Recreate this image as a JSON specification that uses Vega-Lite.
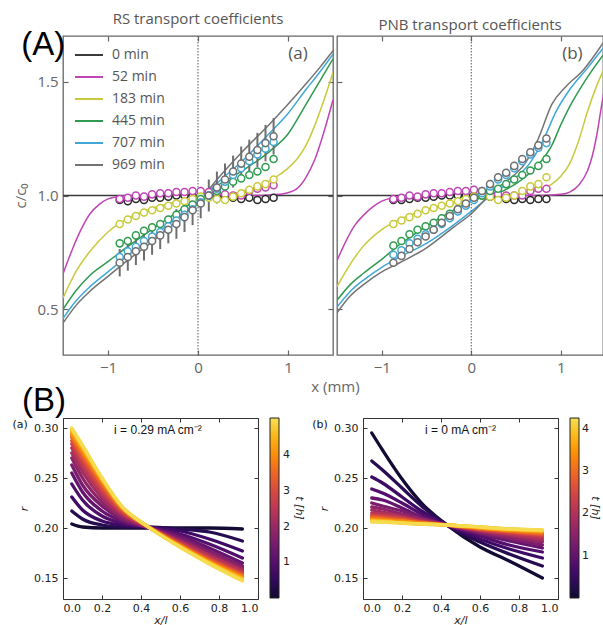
{
"$schema": "https://vega.github.io/schema/vega-lite/v6.json",
"padding": {"left": 11, "top": 11, "right": 0, "bottom": 0},
"background": "white",
"bounds": "full",
"spacing": -11,
"config": {"view": {"stroke": null}, "axis": {"grid": false, "domain": false}},
"resolve": {"scale": {"color": "independent", "stroke": "independent"}, "legend": {"color": "independent", "stroke": "independent"}},
"datasets": {
"la": [
{"s":"0 min","x":-1.5,"c":1.0},{"s":"0 min","x":1.5,"c":1.0},
{"s":"52 min","x":-1.5,"c":0.656},{"s":"52 min","x":-1.4,"c":0.76},{"s":"52 min","x":-1.3,"c":0.85},{"s":"52 min","x":-1.2,"c":0.92},{"s":"52 min","x":-1.1,"c":0.96},{"s":"52 min","x":-1.0,"c":0.985},{"s":"52 min","x":-0.9,"c":0.995},{"s":"52 min","x":-0.7,"c":1.0},{"s":"52 min","x":0,"c":1.0},{"s":"52 min","x":0.7,"c":1.0},{"s":"52 min","x":0.9,"c":1.005},{"s":"52 min","x":1.0,"c":1.012},{"s":"52 min","x":1.1,"c":1.03},{"s":"52 min","x":1.2,"c":1.08},{"s":"52 min","x":1.3,"c":1.16},{"s":"52 min","x":1.4,"c":1.28},{"s":"52 min","x":1.5,"c":1.42},
{"s":"183 min","x":-1.5,"c":0.55},{"s":"183 min","x":-1.35,"c":0.67},{"s":"183 min","x":-1.2,"c":0.755},{"s":"183 min","x":-1.0,"c":0.84},{"s":"183 min","x":-0.8,"c":0.895},{"s":"183 min","x":-0.5,"c":0.945},{"s":"183 min","x":-0.2,"c":0.975},{"s":"183 min","x":0,"c":0.99},{"s":"183 min","x":0.3,"c":1.0},{"s":"183 min","x":0.5,"c":1.02},{"s":"183 min","x":0.7,"c":1.045},{"s":"183 min","x":0.8,"c":1.065},{"s":"183 min","x":0.9,"c":1.09},{"s":"183 min","x":1.0,"c":1.12},{"s":"183 min","x":1.1,"c":1.16},{"s":"183 min","x":1.2,"c":1.22},{"s":"183 min","x":1.3,"c":1.31},{"s":"183 min","x":1.4,"c":1.42},{"s":"183 min","x":1.5,"c":1.54},
{"s":"445 min","x":-1.5,"c":0.5},{"s":"445 min","x":-1.35,"c":0.585},{"s":"445 min","x":-1.2,"c":0.65},{"s":"445 min","x":-1.0,"c":0.71},{"s":"445 min","x":-0.8,"c":0.77},{"s":"445 min","x":-0.5,"c":0.855},{"s":"445 min","x":-0.2,"c":0.935},{"s":"445 min","x":0,"c":0.985},{"s":"445 min","x":0.2,"c":1.04},{"s":"445 min","x":0.5,"c":1.11},{"s":"445 min","x":0.8,"c":1.195},{"s":"445 min","x":1.0,"c":1.27},{"s":"445 min","x":1.2,"c":1.4},{"s":"445 min","x":1.35,"c":1.5},{"s":"445 min","x":1.5,"c":1.6},
{"s":"707 min","x":-1.5,"c":0.46},{"s":"707 min","x":-1.35,"c":0.54},{"s":"707 min","x":-1.2,"c":0.6},{"s":"707 min","x":-1.0,"c":0.665},{"s":"707 min","x":-0.8,"c":0.73},{"s":"707 min","x":-0.5,"c":0.82},{"s":"707 min","x":-0.2,"c":0.915},{"s":"707 min","x":0,"c":0.975},{"s":"707 min","x":0.2,"c":1.05},{"s":"707 min","x":0.5,"c":1.155},{"s":"707 min","x":0.8,"c":1.275},{"s":"707 min","x":1.0,"c":1.36},{"s":"707 min","x":1.2,"c":1.465},{"s":"707 min","x":1.35,"c":1.54},{"s":"707 min","x":1.5,"c":1.62},
{"s":"969 min","x":-1.5,"c":0.44},{"s":"969 min","x":-1.35,"c":0.52},{"s":"969 min","x":-1.2,"c":0.58},{"s":"969 min","x":-1.0,"c":0.645},{"s":"969 min","x":-0.8,"c":0.71},{"s":"969 min","x":-0.5,"c":0.8},{"s":"969 min","x":-0.2,"c":0.9},{"s":"969 min","x":0,"c":0.97},{"s":"969 min","x":0.2,"c":1.065},{"s":"969 min","x":0.5,"c":1.195},{"s":"969 min","x":0.8,"c":1.315},{"s":"969 min","x":1.0,"c":1.4},{"s":"969 min","x":1.2,"c":1.49},{"s":"969 min","x":1.35,"c":1.56},{"s":"969 min","x":1.5,"c":1.635}
],
"lb": [
{"s":"0 min","x":-1.5,"c":1.0},{"s":"0 min","x":1.5,"c":1.0},
{"s":"52 min","x":-1.5,"c":0.714},{"s":"52 min","x":-1.4,"c":0.8},{"s":"52 min","x":-1.3,"c":0.87},{"s":"52 min","x":-1.2,"c":0.915},{"s":"52 min","x":-1.1,"c":0.95},{"s":"52 min","x":-1.0,"c":0.975},{"s":"52 min","x":-0.8,"c":0.995},{"s":"52 min","x":-0.6,"c":1.0},{"s":"52 min","x":0,"c":1.0},{"s":"52 min","x":0.8,"c":1.0},{"s":"52 min","x":1.0,"c":1.005},{"s":"52 min","x":1.1,"c":1.015},{"s":"52 min","x":1.2,"c":1.045},{"s":"52 min","x":1.3,"c":1.11},{"s":"52 min","x":1.35,"c":1.17},{"s":"52 min","x":1.4,"c":1.26},{"s":"52 min","x":1.45,"c":1.38},{"s":"52 min","x":1.5,"c":1.5},
{"s":"183 min","x":-1.5,"c":0.6},{"s":"183 min","x":-1.35,"c":0.7},{"s":"183 min","x":-1.2,"c":0.78},{"s":"183 min","x":-1.0,"c":0.85},{"s":"183 min","x":-0.8,"c":0.895},{"s":"183 min","x":-0.6,"c":0.925},{"s":"183 min","x":-0.3,"c":0.96},{"s":"183 min","x":0,"c":0.985},{"s":"183 min","x":0.3,"c":1.0},{"s":"183 min","x":0.6,"c":1.01},{"s":"183 min","x":0.8,"c":1.03},{"s":"183 min","x":0.9,"c":1.05},{"s":"183 min","x":1.0,"c":1.085},{"s":"183 min","x":1.1,"c":1.14},{"s":"183 min","x":1.2,"c":1.24},{"s":"183 min","x":1.3,"c":1.37},{"s":"183 min","x":1.4,"c":1.48},{"s":"183 min","x":1.5,"c":1.57},
{"s":"445 min","x":-1.5,"c":0.54},{"s":"445 min","x":-1.35,"c":0.61},{"s":"445 min","x":-1.2,"c":0.66},{"s":"445 min","x":-1.0,"c":0.72},{"s":"445 min","x":-0.8,"c":0.785},{"s":"445 min","x":-0.5,"c":0.865},{"s":"445 min","x":-0.2,"c":0.935},{"s":"445 min","x":0,"c":0.975},{"s":"445 min","x":0.3,"c":1.01},{"s":"445 min","x":0.6,"c":1.08},{"s":"445 min","x":0.8,"c":1.16},{"s":"445 min","x":0.9,"c":1.22},{"s":"445 min","x":1.0,"c":1.31},{"s":"445 min","x":1.1,"c":1.39},{"s":"445 min","x":1.25,"c":1.49},{"s":"445 min","x":1.5,"c":1.63},
{"s":"707 min","x":-1.5,"c":0.51},{"s":"707 min","x":-1.35,"c":0.58},{"s":"707 min","x":-1.2,"c":0.63},{"s":"707 min","x":-1.0,"c":0.685},{"s":"707 min","x":-0.8,"c":0.73},{"s":"707 min","x":-0.5,"c":0.79},{"s":"707 min","x":-0.2,"c":0.87},{"s":"707 min","x":0,"c":0.93},{"s":"707 min","x":0.25,"c":1.01},{"s":"707 min","x":0.5,"c":1.08},{"s":"707 min","x":0.65,"c":1.14},{"s":"707 min","x":0.8,"c":1.24},{"s":"707 min","x":0.95,"c":1.37},{"s":"707 min","x":1.1,"c":1.465},{"s":"707 min","x":1.3,"c":1.56},{"s":"707 min","x":1.5,"c":1.66},
{"s":"969 min","x":-1.5,"c":0.485},{"s":"969 min","x":-1.35,"c":0.56},{"s":"969 min","x":-1.2,"c":0.61},{"s":"969 min","x":-1.0,"c":0.665},{"s":"969 min","x":-0.8,"c":0.705},{"s":"969 min","x":-0.5,"c":0.77},{"s":"969 min","x":-0.2,"c":0.86},{"s":"969 min","x":0,"c":0.92},{"s":"969 min","x":0.25,"c":1.02},{"s":"969 min","x":0.45,"c":1.08},{"s":"969 min","x":0.6,"c":1.14},{"s":"969 min","x":0.75,"c":1.25},{"s":"969 min","x":0.9,"c":1.4},{"s":"969 min","x":1.05,"c":1.475},{"s":"969 min","x":1.25,"c":1.55},{"s":"969 min","x":1.5,"c":1.685}
],
"pa": [
{"s":"0 min","x":-0.87,"c":0.98},{"s":"0 min","x":-0.78,"c":0.975},{"s":"0 min","x":-0.69,"c":0.985},{"s":"0 min","x":-0.6,"c":0.98},{"s":"0 min","x":-0.51,"c":0.99},{"s":"0 min","x":-0.42,"c":0.99},{"s":"0 min","x":-0.33,"c":0.995},{"s":"0 min","x":-0.24,"c":1.0},{"s":"0 min","x":-0.15,"c":1.0},{"s":"0 min","x":-0.06,"c":1.0},{"s":"0 min","x":0.03,"c":1.0},{"s":"0 min","x":0.12,"c":1.0},{"s":"0 min","x":0.21,"c":0.995},{"s":"0 min","x":0.3,"c":0.99},{"s":"0 min","x":0.39,"c":0.99},{"s":"0 min","x":0.48,"c":0.985},{"s":"0 min","x":0.57,"c":0.99},{"s":"0 min","x":0.66,"c":0.98},{"s":"0 min","x":0.75,"c":0.985},{"s":"0 min","x":0.84,"c":0.99},
{"s":"52 min","x":-0.87,"c":0.985},{"s":"52 min","x":-0.78,"c":0.99},{"s":"52 min","x":-0.69,"c":1.0},{"s":"52 min","x":-0.6,"c":0.995},{"s":"52 min","x":-0.51,"c":1.005},{"s":"52 min","x":-0.42,"c":1.01},{"s":"52 min","x":-0.33,"c":1.01},{"s":"52 min","x":-0.24,"c":1.015},{"s":"52 min","x":-0.15,"c":1.015},{"s":"52 min","x":-0.06,"c":1.02},{"s":"52 min","x":0.03,"c":1.02},{"s":"52 min","x":0.12,"c":1.015},{"s":"52 min","x":0.21,"c":1.01},{"s":"52 min","x":0.3,"c":1.005},{"s":"52 min","x":0.39,"c":1.0},{"s":"52 min","x":0.48,"c":1.0},{"s":"52 min","x":0.57,"c":1.02},{"s":"52 min","x":0.66,"c":1.03},{"s":"52 min","x":0.75,"c":1.035},{"s":"52 min","x":0.84,"c":1.045},
{"s":"183 min","x":-0.87,"c":0.875},{"s":"183 min","x":-0.78,"c":0.895},{"s":"183 min","x":-0.69,"c":0.91},{"s":"183 min","x":-0.6,"c":0.925},{"s":"183 min","x":-0.51,"c":0.935},{"s":"183 min","x":-0.42,"c":0.945},{"s":"183 min","x":-0.33,"c":0.955},{"s":"183 min","x":-0.24,"c":0.965},{"s":"183 min","x":-0.15,"c":0.975},{"s":"183 min","x":-0.06,"c":0.985},{"s":"183 min","x":0.03,"c":0.995},{"s":"183 min","x":0.12,"c":0.99},{"s":"183 min","x":0.21,"c":0.985},{"s":"183 min","x":0.3,"c":0.98},{"s":"183 min","x":0.39,"c":0.995},{"s":"183 min","x":0.48,"c":1.01},{"s":"183 min","x":0.57,"c":1.025},{"s":"183 min","x":0.66,"c":1.04},{"s":"183 min","x":0.75,"c":1.05},{"s":"183 min","x":0.84,"c":1.07},
{"s":"445 min","x":-0.87,"c":0.79},{"s":"445 min","x":-0.78,"c":0.8},{"s":"445 min","x":-0.69,"c":0.825},{"s":"445 min","x":-0.6,"c":0.845},{"s":"445 min","x":-0.51,"c":0.86},{"s":"445 min","x":-0.42,"c":0.875},{"s":"445 min","x":-0.33,"c":0.895},{"s":"445 min","x":-0.24,"c":0.915},{"s":"445 min","x":-0.15,"c":0.94},{"s":"445 min","x":-0.06,"c":0.96},{"s":"445 min","x":0.03,"c":0.985},{"s":"445 min","x":0.12,"c":1.0},{"s":"445 min","x":0.21,"c":1.02},{"s":"445 min","x":0.3,"c":1.04},{"s":"445 min","x":0.39,"c":1.06},{"s":"445 min","x":0.48,"c":1.075},{"s":"445 min","x":0.57,"c":1.09},{"s":"445 min","x":0.66,"c":1.105},{"s":"445 min","x":0.75,"c":1.125},{"s":"445 min","x":0.84,"c":1.16},
{"s":"707 min","x":-0.87,"c":0.73},{"s":"707 min","x":-0.78,"c":0.755},{"s":"707 min","x":-0.69,"c":0.775},{"s":"707 min","x":-0.6,"c":0.8},{"s":"707 min","x":-0.51,"c":0.82},{"s":"707 min","x":-0.42,"c":0.84},{"s":"707 min","x":-0.33,"c":0.865},{"s":"707 min","x":-0.24,"c":0.89},{"s":"707 min","x":-0.15,"c":0.915},{"s":"707 min","x":-0.06,"c":0.94},{"s":"707 min","x":0.03,"c":0.97},{"s":"707 min","x":0.12,"c":1.0},{"s":"707 min","x":0.21,"c":1.03},{"s":"707 min","x":0.3,"c":1.06},{"s":"707 min","x":0.39,"c":1.09},{"s":"707 min","x":0.48,"c":1.12},{"s":"707 min","x":0.57,"c":1.15},{"s":"707 min","x":0.66,"c":1.18},{"s":"707 min","x":0.75,"c":1.205},{"s":"707 min","x":0.84,"c":1.235},
{"s":"969 min","x":-0.87,"c":0.705},{"s":"969 min","x":-0.78,"c":0.73},{"s":"969 min","x":-0.69,"c":0.755},{"s":"969 min","x":-0.6,"c":0.775},{"s":"969 min","x":-0.51,"c":0.8},{"s":"969 min","x":-0.42,"c":0.825},{"s":"969 min","x":-0.33,"c":0.85},{"s":"969 min","x":-0.24,"c":0.875},{"s":"969 min","x":-0.15,"c":0.905},{"s":"969 min","x":-0.06,"c":0.935},{"s":"969 min","x":0.03,"c":0.965},{"s":"969 min","x":0.12,"c":1.0},{"s":"969 min","x":0.21,"c":1.035},{"s":"969 min","x":0.3,"c":1.07},{"s":"969 min","x":0.39,"c":1.105},{"s":"969 min","x":0.48,"c":1.14},{"s":"969 min","x":0.57,"c":1.17},{"s":"969 min","x":0.66,"c":1.2},{"s":"969 min","x":0.75,"c":1.23},{"s":"969 min","x":0.84,"c":1.26}
],
"ea": [
{"x":-0.87,"lo":0.645,"hi":0.765},{"x":-0.78,"lo":0.67,"hi":0.79},{"x":-0.69,"lo":0.695,"hi":0.815},{"x":-0.6,"lo":0.715,"hi":0.835},{"x":-0.51,"lo":0.74,"hi":0.86},{"x":-0.42,"lo":0.765,"hi":0.885},{"x":-0.33,"lo":0.79,"hi":0.91},{"x":-0.24,"lo":0.81,"hi":0.94},{"x":-0.15,"lo":0.84,"hi":0.97},{"x":-0.06,"lo":0.87,"hi":1.0},{"x":0.03,"lo":0.9,"hi":1.03},{"x":0.12,"lo":0.93,"hi":1.07},{"x":0.21,"lo":0.965,"hi":1.105},{"x":0.3,"lo":1.0,"hi":1.14},{"x":0.39,"lo":1.035,"hi":1.175},{"x":0.48,"lo":1.065,"hi":1.215},{"x":0.57,"lo":1.095,"hi":1.245},{"x":0.66,"lo":1.125,"hi":1.275},{"x":0.75,"lo":1.15,"hi":1.31},{"x":0.84,"lo":1.18,"hi":1.34}
],
"pb": [
{"s":"0 min","x":-0.87,"c":0.98},{"s":"0 min","x":-0.78,"c":0.98},{"s":"0 min","x":-0.69,"c":0.985},{"s":"0 min","x":-0.6,"c":0.99},{"s":"0 min","x":-0.51,"c":0.99},{"s":"0 min","x":-0.42,"c":0.995},{"s":"0 min","x":-0.33,"c":1.0},{"s":"0 min","x":-0.24,"c":1.0},{"s":"0 min","x":-0.15,"c":1.0},{"s":"0 min","x":-0.06,"c":1.0},{"s":"0 min","x":0.03,"c":1.0},{"s":"0 min","x":0.12,"c":1.0},{"s":"0 min","x":0.21,"c":0.995},{"s":"0 min","x":0.3,"c":0.99},{"s":"0 min","x":0.39,"c":0.985},{"s":"0 min","x":0.48,"c":0.98},{"s":"0 min","x":0.57,"c":0.985},{"s":"0 min","x":0.66,"c":0.98},{"s":"0 min","x":0.75,"c":0.985},{"s":"0 min","x":0.84,"c":0.985},
{"s":"52 min","x":-0.87,"c":0.985},{"s":"52 min","x":-0.78,"c":0.99},{"s":"52 min","x":-0.69,"c":1.0},{"s":"52 min","x":-0.6,"c":0.995},{"s":"52 min","x":-0.51,"c":1.005},{"s":"52 min","x":-0.42,"c":1.01},{"s":"52 min","x":-0.33,"c":1.01},{"s":"52 min","x":-0.24,"c":1.015},{"s":"52 min","x":-0.15,"c":1.02},{"s":"52 min","x":-0.06,"c":1.02},{"s":"52 min","x":0.03,"c":1.025},{"s":"52 min","x":0.12,"c":1.02},{"s":"52 min","x":0.21,"c":1.01},{"s":"52 min","x":0.3,"c":1.005},{"s":"52 min","x":0.39,"c":1.0},{"s":"52 min","x":0.48,"c":1.0},{"s":"52 min","x":0.57,"c":1.0},{"s":"52 min","x":0.66,"c":1.02},{"s":"52 min","x":0.75,"c":1.03},{"s":"52 min","x":0.84,"c":1.03},
{"s":"183 min","x":-0.87,"c":0.875},{"s":"183 min","x":-0.78,"c":0.89},{"s":"183 min","x":-0.69,"c":0.905},{"s":"183 min","x":-0.6,"c":0.92},{"s":"183 min","x":-0.51,"c":0.935},{"s":"183 min","x":-0.42,"c":0.945},{"s":"183 min","x":-0.33,"c":0.955},{"s":"183 min","x":-0.24,"c":0.965},{"s":"183 min","x":-0.15,"c":0.975},{"s":"183 min","x":-0.06,"c":0.985},{"s":"183 min","x":0.03,"c":0.995},{"s":"183 min","x":0.12,"c":1.0},{"s":"183 min","x":0.21,"c":0.995},{"s":"183 min","x":0.3,"c":0.98},{"s":"183 min","x":0.39,"c":0.99},{"s":"183 min","x":0.48,"c":1.0},{"s":"183 min","x":0.57,"c":1.02},{"s":"183 min","x":0.66,"c":1.04},{"s":"183 min","x":0.75,"c":1.05},{"s":"183 min","x":0.84,"c":1.08},
{"s":"445 min","x":-0.87,"c":0.78},{"s":"445 min","x":-0.78,"c":0.8},{"s":"445 min","x":-0.69,"c":0.83},{"s":"445 min","x":-0.6,"c":0.85},{"s":"445 min","x":-0.51,"c":0.865},{"s":"445 min","x":-0.42,"c":0.88},{"s":"445 min","x":-0.33,"c":0.9},{"s":"445 min","x":-0.24,"c":0.92},{"s":"445 min","x":-0.15,"c":0.94},{"s":"445 min","x":-0.06,"c":0.96},{"s":"445 min","x":0.03,"c":0.985},{"s":"445 min","x":0.12,"c":1.0},{"s":"445 min","x":0.21,"c":1.02},{"s":"445 min","x":0.3,"c":1.03},{"s":"445 min","x":0.39,"c":1.05},{"s":"445 min","x":0.48,"c":1.07},{"s":"445 min","x":0.57,"c":1.09},{"s":"445 min","x":0.66,"c":1.11},{"s":"445 min","x":0.75,"c":1.13},{"s":"445 min","x":0.84,"c":1.16},
{"s":"707 min","x":-0.87,"c":0.74},{"s":"707 min","x":-0.78,"c":0.76},{"s":"707 min","x":-0.69,"c":0.79},{"s":"707 min","x":-0.6,"c":0.81},{"s":"707 min","x":-0.51,"c":0.83},{"s":"707 min","x":-0.42,"c":0.85},{"s":"707 min","x":-0.33,"c":0.875},{"s":"707 min","x":-0.24,"c":0.9},{"s":"707 min","x":-0.15,"c":0.93},{"s":"707 min","x":-0.06,"c":0.955},{"s":"707 min","x":0.03,"c":0.98},{"s":"707 min","x":0.12,"c":1.01},{"s":"707 min","x":0.21,"c":1.04},{"s":"707 min","x":0.3,"c":1.07},{"s":"707 min","x":0.39,"c":1.09},{"s":"707 min","x":0.48,"c":1.12},{"s":"707 min","x":0.57,"c":1.15},{"s":"707 min","x":0.66,"c":1.18},{"s":"707 min","x":0.75,"c":1.21},{"s":"707 min","x":0.84,"c":1.23},
{"s":"969 min","x":-0.87,"c":0.705},{"s":"969 min","x":-0.78,"c":0.735},{"s":"969 min","x":-0.69,"c":0.765},{"s":"969 min","x":-0.6,"c":0.795},{"s":"969 min","x":-0.51,"c":0.82},{"s":"969 min","x":-0.42,"c":0.85},{"s":"969 min","x":-0.33,"c":0.88},{"s":"969 min","x":-0.24,"c":0.91},{"s":"969 min","x":-0.15,"c":0.94},{"s":"969 min","x":-0.06,"c":0.965},{"s":"969 min","x":0.03,"c":0.99},{"s":"969 min","x":0.12,"c":1.02},{"s":"969 min","x":0.21,"c":1.05},{"s":"969 min","x":0.3,"c":1.08},{"s":"969 min","x":0.39,"c":1.1},{"s":"969 min","x":0.48,"c":1.13},{"s":"969 min","x":0.57,"c":1.16},{"s":"969 min","x":0.66,"c":1.19},{"s":"969 min","x":0.75,"c":1.22},{"s":"969 min","x":0.84,"c":1.25}
],
"ba": [
{"t":0.05,"x":0.045,"r":0.204},{"t":0.05,"x":0.1,"r":0.201},{"t":0.05,"x":0.2,"r":0.2},{"t":0.05,"x":0.3,"r":0.2},{"t":0.05,"x":0.43,"r":0.2},{"t":0.05,"x":0.6,"r":0.2},{"t":0.05,"x":0.75,"r":0.2},{"t":0.05,"x":0.92,"r":0.199},
{"t":0.35,"x":0.045,"r":0.217},{"t":0.35,"x":0.1,"r":0.209},{"t":0.35,"x":0.2,"r":0.203},{"t":0.35,"x":0.3,"r":0.201},{"t":0.35,"x":0.43,"r":0.201},{"t":0.35,"x":0.6,"r":0.199},{"t":0.35,"x":0.75,"r":0.196},{"t":0.35,"x":0.92,"r":0.187},
{"t":0.65,"x":0.045,"r":0.231},{"t":0.65,"x":0.1,"r":0.218},{"t":0.65,"x":0.2,"r":0.207},{"t":0.65,"x":0.3,"r":0.203},{"t":0.65,"x":0.43,"r":0.201},{"t":0.65,"x":0.6,"r":0.197},{"t":0.65,"x":0.75,"r":0.189},{"t":0.65,"x":0.92,"r":0.177},
{"t":0.95,"x":0.045,"r":0.244},{"t":0.95,"x":0.1,"r":0.228},{"t":0.95,"x":0.2,"r":0.212},{"t":0.95,"x":0.3,"r":0.205},{"t":0.95,"x":0.43,"r":0.201},{"t":0.95,"x":0.6,"r":0.194},{"t":0.95,"x":0.75,"r":0.184},{"t":0.95,"x":0.92,"r":0.17},
{"t":1.25,"x":0.045,"r":0.255},{"t":1.25,"x":0.1,"r":0.236},{"t":1.25,"x":0.2,"r":0.217},{"t":1.25,"x":0.3,"r":0.207},{"t":1.25,"x":0.43,"r":0.201},{"t":1.25,"x":0.6,"r":0.192},{"t":1.25,"x":0.75,"r":0.18},{"t":1.25,"x":0.92,"r":0.165},
{"t":1.55,"x":0.045,"r":0.263},{"t":1.55,"x":0.1,"r":0.243},{"t":1.55,"x":0.2,"r":0.222},{"t":1.55,"x":0.3,"r":0.209},{"t":1.55,"x":0.43,"r":0.201},{"t":1.55,"x":0.6,"r":0.19},{"t":1.55,"x":0.75,"r":0.177},{"t":1.55,"x":0.92,"r":0.162},
{"t":1.85,"x":0.045,"r":0.27},{"t":1.85,"x":0.1,"r":0.25},{"t":1.85,"x":0.2,"r":0.226},{"t":1.85,"x":0.3,"r":0.211},{"t":1.85,"x":0.43,"r":0.201},{"t":1.85,"x":0.6,"r":0.188},{"t":1.85,"x":0.75,"r":0.175},{"t":1.85,"x":0.92,"r":0.16},
{"t":2.15,"x":0.045,"r":0.275},{"t":2.15,"x":0.1,"r":0.256},{"t":2.15,"x":0.2,"r":0.23},{"t":2.15,"x":0.3,"r":0.213},{"t":2.15,"x":0.43,"r":0.201},{"t":2.15,"x":0.6,"r":0.187},{"t":2.15,"x":0.75,"r":0.173},{"t":2.15,"x":0.92,"r":0.158},
{"t":2.45,"x":0.045,"r":0.28},{"t":2.45,"x":0.1,"r":0.261},{"t":2.45,"x":0.2,"r":0.234},{"t":2.45,"x":0.3,"r":0.215},{"t":2.45,"x":0.43,"r":0.202},{"t":2.45,"x":0.6,"r":0.186},{"t":2.45,"x":0.75,"r":0.172},{"t":2.45,"x":0.92,"r":0.157},
{"t":2.75,"x":0.045,"r":0.284},{"t":2.75,"x":0.1,"r":0.265},{"t":2.75,"x":0.2,"r":0.237},{"t":2.75,"x":0.3,"r":0.216},{"t":2.75,"x":0.43,"r":0.202},{"t":2.75,"x":0.6,"r":0.185},{"t":2.75,"x":0.75,"r":0.17},{"t":2.75,"x":0.92,"r":0.155},
{"t":3.05,"x":0.045,"r":0.287},{"t":3.05,"x":0.1,"r":0.269},{"t":3.05,"x":0.2,"r":0.24},{"t":3.05,"x":0.3,"r":0.218},{"t":3.05,"x":0.43,"r":0.202},{"t":3.05,"x":0.6,"r":0.184},{"t":3.05,"x":0.75,"r":0.169},{"t":3.05,"x":0.92,"r":0.154},
{"t":3.35,"x":0.045,"r":0.29},{"t":3.35,"x":0.1,"r":0.272},{"t":3.35,"x":0.2,"r":0.243},{"t":3.35,"x":0.3,"r":0.219},{"t":3.35,"x":0.43,"r":0.202},{"t":3.35,"x":0.6,"r":0.183},{"t":3.35,"x":0.75,"r":0.168},{"t":3.35,"x":0.92,"r":0.153},
{"t":3.65,"x":0.045,"r":0.292},{"t":3.65,"x":0.1,"r":0.275},{"t":3.65,"x":0.2,"r":0.245},{"t":3.65,"x":0.3,"r":0.22},{"t":3.65,"x":0.43,"r":0.202},{"t":3.65,"x":0.6,"r":0.183},{"t":3.65,"x":0.75,"r":0.167},{"t":3.65,"x":0.92,"r":0.152},
{"t":3.95,"x":0.045,"r":0.294},{"t":3.95,"x":0.1,"r":0.277},{"t":3.95,"x":0.2,"r":0.247},{"t":3.95,"x":0.3,"r":0.221},{"t":3.95,"x":0.43,"r":0.202},{"t":3.95,"x":0.6,"r":0.182},{"t":3.95,"x":0.75,"r":0.166},{"t":3.95,"x":0.92,"r":0.151},
{"t":4.25,"x":0.045,"r":0.296},{"t":4.25,"x":0.1,"r":0.279},{"t":4.25,"x":0.2,"r":0.248},{"t":4.25,"x":0.3,"r":0.221},{"t":4.25,"x":0.43,"r":0.202},{"t":4.25,"x":0.6,"r":0.182},{"t":4.25,"x":0.75,"r":0.166},{"t":4.25,"x":0.92,"r":0.15},
{"t":4.55,"x":0.045,"r":0.298},{"t":4.55,"x":0.1,"r":0.281},{"t":4.55,"x":0.2,"r":0.249},{"t":4.55,"x":0.3,"r":0.222},{"t":4.55,"x":0.43,"r":0.202},{"t":4.55,"x":0.6,"r":0.181},{"t":4.55,"x":0.75,"r":0.165},{"t":4.55,"x":0.92,"r":0.149},
{"t":4.85,"x":0.045,"r":0.299},{"t":4.85,"x":0.1,"r":0.282},{"t":4.85,"x":0.2,"r":0.25},{"t":4.85,"x":0.3,"r":0.222},{"t":4.85,"x":0.43,"r":0.202},{"t":4.85,"x":0.6,"r":0.181},{"t":4.85,"x":0.75,"r":0.165},{"t":4.85,"x":0.92,"r":0.148},
{"t":5.0,"x":0.045,"r":0.3},{"t":5.0,"x":0.1,"r":0.283},{"t":5.0,"x":0.2,"r":0.25},{"t":5.0,"x":0.3,"r":0.222},{"t":5.0,"x":0.43,"r":0.202},{"t":5.0,"x":0.6,"r":0.181},{"t":5.0,"x":0.75,"r":0.164},{"t":5.0,"x":0.92,"r":0.147}
],
"bb": [
{"t":0.05,"x":0.045,"r":0.295},{"t":0.05,"x":0.1,"r":0.278},{"t":0.05,"x":0.2,"r":0.249},{"t":0.05,"x":0.3,"r":0.225},{"t":0.05,"x":0.43,"r":0.203},{"t":0.05,"x":0.6,"r":0.181},{"t":0.05,"x":0.75,"r":0.167},{"t":0.05,"x":0.92,"r":0.15},
{"t":0.3,"x":0.045,"r":0.267},{"t":0.3,"x":0.1,"r":0.258},{"t":0.3,"x":0.2,"r":0.24},{"t":0.3,"x":0.3,"r":0.222},{"t":0.3,"x":0.43,"r":0.203},{"t":0.3,"x":0.6,"r":0.186},{"t":0.3,"x":0.75,"r":0.174},{"t":0.3,"x":0.92,"r":0.162},
{"t":0.55,"x":0.045,"r":0.251},{"t":0.55,"x":0.1,"r":0.245},{"t":0.55,"x":0.2,"r":0.231},{"t":0.55,"x":0.3,"r":0.217},{"t":0.55,"x":0.43,"r":0.203},{"t":0.55,"x":0.6,"r":0.189},{"t":0.55,"x":0.75,"r":0.179},{"t":0.55,"x":0.92,"r":0.17},
{"t":0.8,"x":0.045,"r":0.239},{"t":0.8,"x":0.1,"r":0.235},{"t":0.8,"x":0.2,"r":0.225},{"t":0.8,"x":0.3,"r":0.214},{"t":0.8,"x":0.43,"r":0.203},{"t":0.8,"x":0.6,"r":0.192},{"t":0.8,"x":0.75,"r":0.183},{"t":0.8,"x":0.92,"r":0.176},
{"t":1.05,"x":0.045,"r":0.23},{"t":1.05,"x":0.1,"r":0.228},{"t":1.05,"x":0.2,"r":0.22},{"t":1.05,"x":0.3,"r":0.211},{"t":1.05,"x":0.43,"r":0.203},{"t":1.05,"x":0.6,"r":0.194},{"t":1.05,"x":0.75,"r":0.187},{"t":1.05,"x":0.92,"r":0.18},
{"t":1.3,"x":0.045,"r":0.225},{"t":1.3,"x":0.1,"r":0.222},{"t":1.3,"x":0.2,"r":0.217},{"t":1.3,"x":0.3,"r":0.21},{"t":1.3,"x":0.43,"r":0.203},{"t":1.3,"x":0.6,"r":0.195},{"t":1.3,"x":0.75,"r":0.189},{"t":1.3,"x":0.92,"r":0.183},
{"t":1.55,"x":0.045,"r":0.221},{"t":1.55,"x":0.1,"r":0.219},{"t":1.55,"x":0.2,"r":0.214},{"t":1.55,"x":0.3,"r":0.209},{"t":1.55,"x":0.43,"r":0.203},{"t":1.55,"x":0.6,"r":0.196},{"t":1.55,"x":0.75,"r":0.191},{"t":1.55,"x":0.92,"r":0.186},
{"t":1.8,"x":0.045,"r":0.218},{"t":1.8,"x":0.1,"r":0.216},{"t":1.8,"x":0.2,"r":0.212},{"t":1.8,"x":0.3,"r":0.208},{"t":1.8,"x":0.43,"r":0.203},{"t":1.8,"x":0.6,"r":0.197},{"t":1.8,"x":0.75,"r":0.193},{"t":1.8,"x":0.92,"r":0.188},
{"t":2.05,"x":0.045,"r":0.215},{"t":2.05,"x":0.1,"r":0.214},{"t":2.05,"x":0.2,"r":0.211},{"t":2.05,"x":0.3,"r":0.207},{"t":2.05,"x":0.43,"r":0.203},{"t":2.05,"x":0.6,"r":0.198},{"t":2.05,"x":0.75,"r":0.194},{"t":2.05,"x":0.92,"r":0.19},
{"t":2.3,"x":0.045,"r":0.213},{"t":2.3,"x":0.1,"r":0.212},{"t":2.3,"x":0.2,"r":0.21},{"t":2.3,"x":0.3,"r":0.206},{"t":2.3,"x":0.43,"r":0.203},{"t":2.3,"x":0.6,"r":0.198},{"t":2.3,"x":0.75,"r":0.195},{"t":2.3,"x":0.92,"r":0.192},
{"t":2.55,"x":0.045,"r":0.212},{"t":2.55,"x":0.1,"r":0.211},{"t":2.55,"x":0.2,"r":0.209},{"t":2.55,"x":0.3,"r":0.206},{"t":2.55,"x":0.43,"r":0.203},{"t":2.55,"x":0.6,"r":0.199},{"t":2.55,"x":0.75,"r":0.196},{"t":2.55,"x":0.92,"r":0.193},
{"t":2.8,"x":0.045,"r":0.211},{"t":2.8,"x":0.1,"r":0.21},{"t":2.8,"x":0.2,"r":0.208},{"t":2.8,"x":0.3,"r":0.205},{"t":2.8,"x":0.43,"r":0.203},{"t":2.8,"x":0.6,"r":0.199},{"t":2.8,"x":0.75,"r":0.197},{"t":2.8,"x":0.92,"r":0.194},
{"t":3.05,"x":0.045,"r":0.21},{"t":3.05,"x":0.1,"r":0.209},{"t":3.05,"x":0.2,"r":0.207},{"t":3.05,"x":0.3,"r":0.205},{"t":3.05,"x":0.43,"r":0.203},{"t":3.05,"x":0.6,"r":0.2},{"t":3.05,"x":0.75,"r":0.197},{"t":3.05,"x":0.92,"r":0.195},
{"t":3.3,"x":0.045,"r":0.209},{"t":3.3,"x":0.1,"r":0.208},{"t":3.3,"x":0.2,"r":0.207},{"t":3.3,"x":0.3,"r":0.205},{"t":3.3,"x":0.43,"r":0.203},{"t":3.3,"x":0.6,"r":0.2},{"t":3.3,"x":0.75,"r":0.198},{"t":3.3,"x":0.92,"r":0.196},
{"t":3.55,"x":0.045,"r":0.208},{"t":3.55,"x":0.1,"r":0.207},{"t":3.55,"x":0.2,"r":0.206},{"t":3.55,"x":0.3,"r":0.204},{"t":3.55,"x":0.43,"r":0.203},{"t":3.55,"x":0.6,"r":0.2},{"t":3.55,"x":0.75,"r":0.198},{"t":3.55,"x":0.92,"r":0.197},
{"t":3.8,"x":0.045,"r":0.207},{"t":3.8,"x":0.1,"r":0.207},{"t":3.8,"x":0.2,"r":0.205},{"t":3.8,"x":0.3,"r":0.204},{"t":3.8,"x":0.43,"r":0.203},{"t":3.8,"x":0.6,"r":0.201},{"t":3.8,"x":0.75,"r":0.199},{"t":3.8,"x":0.92,"r":0.197},
{"t":4.05,"x":0.045,"r":0.207},{"t":4.05,"x":0.1,"r":0.206},{"t":4.05,"x":0.2,"r":0.205},{"t":4.05,"x":0.3,"r":0.204},{"t":4.05,"x":0.43,"r":0.203},{"t":4.05,"x":0.6,"r":0.201},{"t":4.05,"x":0.75,"r":0.199},{"t":4.05,"x":0.92,"r":0.198},
{"t":4.2,"x":0.045,"r":0.206},{"t":4.2,"x":0.1,"r":0.206},{"t":4.2,"x":0.2,"r":0.205},{"t":4.2,"x":0.3,"r":0.204},{"t":4.2,"x":0.43,"r":0.203},{"t":4.2,"x":0.6,"r":0.201},{"t":4.2,"x":0.75,"r":0.199},{"t":4.2,"x":0.92,"r":0.198}
]
},
"vconcat": [
{
"hconcat": [
{
"width": 270, "height": 319,
"view": {"stroke": "#666", "strokeWidth": 1.3},
"title": {"text": "RS transport coefficients", "font": "Open Sans", "fontSize": 15, "fontWeight": "normal", "color": "#555", "offset": 2},
"resolve": {"axis": {"x": "independent", "y": "independent"}},
"layer": [
{"data": {"name": "la"}, "mark": {"type": "line", "strokeWidth": 1.5, "interpolate": "monotone", "clip": true},
 "encoding": {
  "x": {"field": "x", "type": "quantitative", "scale": {"domain": [-1.5, 1.5], "nice": false, "zero": false},
        "axis": {"orient": "bottom", "values": [-1, 0, 1], "format": "d", "labelFont": "Open Sans", "labelFontSize": 15, "labelColor": "#666", "tickSize": -5, "tickColor": "#666", "tickWidth": 1.2, "labelPadding": 10, "domain": false, "grid": false,
                 "title": "x (mm)", "titleFont": "Open Sans", "titleFontSize": 15, "titleFontWeight": "normal", "titleColor": "#666", "titleX": 272, "titleY": 31, "titleBaseline": "middle"}},
  "y": {"field": "c", "type": "quantitative", "scale": {"domain": [0.3, 1.7], "nice": false, "zero": false},
        "axis": {"orient": "left", "values": [0.5, 1.0, 1.5], "format": ".1f", "labelFont": "Open Sans", "labelFontSize": 15, "labelColor": "#666", "tickSize": -5, "tickColor": "#666", "tickWidth": 1.2, "labelPadding": 10, "domain": false, "grid": false,
                 "title": "c/c₀", "titleFont": "Open Sans", "titleFontSize": 15, "titleFontWeight": "normal", "titleColor": "#666", "titlePadding": 8}},
  "color": {"field": "s", "type": "nominal", "sort": null,
            "scale": {"domain": ["0 min", "52 min", "183 min", "445 min", "707 min", "969 min"], "range": ["#3a3a3a", "#bf45b5", "#c8ca3c", "#2f9a50", "#41a7d8", "#737373"]},
            "legend": {"orient": "none", "legendX": 11, "legendY": 4, "padding": 0, "title": null, "symbolType": "stroke", "symbolSize": 784, "symbolStrokeWidth": 2, "labelFont": "Open Sans", "labelFontSize": 14, "labelColor": "#555", "labelOffset": 8, "rowPadding": -14}}
 }},
{"data": {"values": [{"x": 0}]}, "mark": {"type": "rule", "color": "#555", "strokeWidth": 1, "strokeDash": [1.5, 1.5]},
 "encoding": {"x": {"field": "x", "type": "quantitative", "scale": {"domain": [-1.5, 1.5], "nice": false, "zero": false},
   "axis": {"orient": "top", "values": [-1, 0, 1], "labels": false, "tickSize": -5, "tickColor": "#666", "tickWidth": 1.2, "domain": false, "grid": false, "title": null}}}},
{"data": {"name": "ea"}, "mark": {"type": "rule", "color": "#6e6e6e", "strokeWidth": 2},
 "encoding": {"x": {"field": "x", "type": "quantitative", "scale": {"domain": [-1.5, 1.5], "nice": false, "zero": false}, "axis": null},
   "y": {"field": "lo", "type": "quantitative", "scale": {"domain": [0.3, 1.7], "nice": false, "zero": false}, "axis": null},
   "y2": {"field": "hi"}}},
{"data": {"name": "pa"}, "mark": {"type": "circle", "size": 50, "fill": "white", "fillOpacity": 1, "opacity": 1, "strokeWidth": 1.5},
 "encoding": {"x": {"field": "x", "type": "quantitative", "scale": {"domain": [-1.5, 1.5], "nice": false, "zero": false}, "axis": null},
   "y": {"field": "c", "type": "quantitative", "scale": {"domain": [0.3, 1.7], "nice": false, "zero": false},
     "axis": {"orient": "right", "values": [0.5, 1.0, 1.5], "labels": false, "tickSize": -5, "tickColor": "#666", "tickWidth": 1.2, "domain": false, "grid": false, "title": null}},
   "stroke": {"field": "s", "type": "nominal", "sort": null, "legend": null,
     "scale": {"domain": ["0 min", "52 min", "183 min", "445 min", "707 min", "969 min"], "range": ["#2a2a2a", "#bf45b5", "#c8ca3c", "#2f9a50", "#41a7d8", "#6e6e6e"]}}}},
{"data": {"values": [{"x": 1.11, "c": 1.62, "t": "(a)"}]}, "mark": {"type": "text", "font": "Open Sans", "fontSize": 17, "color": "#555", "align": "center", "baseline": "middle"},
 "encoding": {"x": {"field": "x", "type": "quantitative", "scale": {"domain": [-1.5, 1.5], "nice": false, "zero": false}, "axis": null},
   "y": {"field": "c", "type": "quantitative", "scale": {"domain": [0.3, 1.7], "nice": false, "zero": false}, "axis": null},
   "text": {"field": "t"}}},
{"data": {"values": [{"x": -1.72, "c": 1.661, "t": "(A)"}]}, "mark": {"type": "text", "font": "Liberation Sans", "fontSize": 33, "color": "#000", "align": "center", "baseline": "middle"},
 "encoding": {"x": {"field": "x", "type": "quantitative", "scale": {"domain": [-1.5, 1.5], "nice": false, "zero": false}, "axis": null},
   "y": {"field": "c", "type": "quantitative", "scale": {"domain": [0.3, 1.7], "nice": false, "zero": false}, "axis": null},
   "text": {"field": "t"}}}
]
},
{
"width": 266, "height": 319,
"view": {"stroke": "#666", "strokeWidth": 1.3},
"title": {"text": "PNB transport coefficients", "font": "Open Sans", "fontSize": 15, "fontWeight": "normal", "color": "#555", "offset": 2},
"resolve": {"axis": {"x": "independent", "y": "independent"}},
"layer": [
{"data": {"name": "lb"}, "mark": {"type": "line", "strokeWidth": 1.5, "interpolate": "monotone", "clip": true},
 "encoding": {
  "x": {"field": "x", "type": "quantitative", "scale": {"domain": [-1.5, 1.472], "nice": false, "zero": false},
        "axis": {"orient": "bottom", "values": [-1, 0, 1], "format": "d", "labelFont": "Open Sans", "labelFontSize": 15, "labelColor": "#666", "tickSize": -5, "tickColor": "#666", "tickWidth": 1.2, "labelPadding": 10, "domain": false, "grid": false, "title": null}},
  "y": {"field": "c", "type": "quantitative", "scale": {"domain": [0.3, 1.7], "nice": false, "zero": false},
        "axis": {"orient": "left", "values": [0.5, 1.0, 1.5], "labels": false, "tickSize": -5, "tickColor": "#666", "tickWidth": 1.2, "domain": false, "grid": false, "title": null}},
  "color": {"field": "s", "type": "nominal", "sort": null, "legend": null,
            "scale": {"domain": ["0 min", "52 min", "183 min", "445 min", "707 min", "969 min"], "range": ["#3a3a3a", "#bf45b5", "#c8ca3c", "#2f9a50", "#41a7d8", "#737373"]}}
 }},
{"data": {"values": [{"x": 0}]}, "mark": {"type": "rule", "color": "#555", "strokeWidth": 1, "strokeDash": [1.5, 1.5]},
 "encoding": {"x": {"field": "x", "type": "quantitative", "scale": {"domain": [-1.5, 1.472], "nice": false, "zero": false},
   "axis": {"orient": "top", "values": [-1, 0, 1], "labels": false, "tickSize": -5, "tickColor": "#666", "tickWidth": 1.2, "domain": false, "grid": false, "title": null}}}},
{"data": {"name": "pb"}, "mark": {"type": "circle", "size": 50, "fill": "white", "fillOpacity": 1, "opacity": 1, "strokeWidth": 1.5},
 "encoding": {"x": {"field": "x", "type": "quantitative", "scale": {"domain": [-1.5, 1.472], "nice": false, "zero": false}, "axis": null},
   "y": {"field": "c", "type": "quantitative", "scale": {"domain": [0.3, 1.7], "nice": false, "zero": false}, "axis": null},
   "stroke": {"field": "s", "type": "nominal", "sort": null, "legend": null,
     "scale": {"domain": ["0 min", "52 min", "183 min", "445 min", "707 min", "969 min"], "range": ["#2a2a2a", "#bf45b5", "#c8ca3c", "#2f9a50", "#41a7d8", "#6e6e6e"]}}}},
{"data": {"values": [{"x": 1.13, "c": 1.62, "t": "(b)"}]}, "mark": {"type": "text", "font": "Open Sans", "fontSize": 17, "color": "#555", "align": "center", "baseline": "middle"},
 "encoding": {"x": {"field": "x", "type": "quantitative", "scale": {"domain": [-1.5, 1.472], "nice": false, "zero": false}, "axis": null},
   "y": {"field": "c", "type": "quantitative", "scale": {"domain": [0.3, 1.7], "nice": false, "zero": false}, "axis": null},
   "text": {"field": "t"}}}
]
}
],
"spacing": 4, "bounds": "flush",
"resolve": {"scale": {"color": "independent", "stroke": "independent"}, "legend": {"color": "independent", "stroke": "independent"}}
},
{
"hconcat": [
{
"width": 195, "height": 181,
"view": {"stroke": "#333", "strokeWidth": 1},
"resolve": {"axis": {"x": "independent", "y": "independent"}},
"layer": [
{"data": {"name": "ba"}, "mark": {"type": "line", "strokeWidth": 3.3, "interpolate": "monotone", "strokeCap": "round"},
 "encoding": {
  "x": {"field": "x", "type": "quantitative", "scale": {"domain": [0, 1], "nice": false, "zero": false},
    "axis": {"orient": "bottom", "values": [0, 0.2, 0.4, 0.6, 0.8, 1.0], "format": ".1f", "labelFont": "DejaVu Sans", "labelFontSize": 11, "labelColor": "#222", "tickSize": -4, "tickColor": "#333", "labelPadding": 7, "domain": false, "grid": false,
      "title": "x/l", "titleFont": "DejaVu Sans", "titleFontSize": 11, "titleFontStyle": "italic", "titleFontWeight": "normal", "titleColor": "#222", "titlePadding": 1}},
  "y": {"field": "r", "type": "quantitative", "scale": {"domain": [0.129, 0.31], "nice": false, "zero": false},
    "axis": {"orient": "left", "values": [0.15, 0.2, 0.25, 0.3], "format": ".2f", "labelFont": "DejaVu Sans", "labelFontSize": 11, "labelColor": "#222", "tickSize": -4, "tickColor": "#333", "labelPadding": 9, "domain": false, "grid": false,
      "title": "r", "titleFont": "DejaVu Sans", "titleFontSize": 11, "titleFontStyle": "italic", "titleFontWeight": "normal", "titleColor": "#222", "titlePadding": 4}},
  "color": {"field": "t", "type": "quantitative", "scale": {"scheme": {"name": "inferno", "extent": [0.08, 0.92]}, "domain": [0, 5.05]},
    "legend": {"orient": "right", "offset": 11, "padding": 0, "direction": "vertical", "gradientLength": 180, "gradientThickness": 9, "gradientStrokeColor": "#222", "gradientStrokeWidth": 1, "values": [1, 2, 3, 4], "labelFont": "DejaVu Sans", "labelFontSize": 11, "labelColor": "#222", "labelOffset": 4,
      "title": "t [h]", "titleOrient": "right", "titleAngle": 270, "titleAnchor": "middle", "titleFont": "DejaVu Sans", "titleFontSize": 11, "titleFontStyle": "italic", "titleFontWeight": "normal", "titleColor": "#222", "titlePadding": 4}},
  "detail": {"field": "t", "type": "quantitative"}
 }},
{"data": {"values": [{"x": 0.487, "r": 0.298, "t": "i = 0.29 mA cm⁻²"}]}, "mark": {"type": "text", "font": "Liberation Sans", "fontSize": 12, "color": "#111", "align": "center", "baseline": "middle"},
 "encoding": {"x": {"field": "x", "type": "quantitative", "scale": {"domain": [0, 1], "nice": false, "zero": false},
    "axis": {"orient": "top", "values": [0, 0.2, 0.4, 0.6, 0.8, 1.0], "labels": false, "tickSize": -4, "tickColor": "#333", "domain": false, "grid": false, "title": null}},
   "y": {"field": "r", "type": "quantitative", "scale": {"domain": [0.129, 0.31], "nice": false, "zero": false},
    "axis": {"orient": "right", "values": [0.15, 0.2, 0.25, 0.3], "labels": false, "tickSize": -4, "tickColor": "#333", "domain": false, "grid": false, "title": null}},
   "text": {"field": "t"}}},
{"data": {"values": [{"x": -0.22, "r": 0.303, "t": "(a)"}]}, "mark": {"type": "text", "font": "DejaVu Sans", "fontSize": 11, "color": "#111", "align": "center", "baseline": "middle"},
 "encoding": {"x": {"field": "x", "type": "quantitative", "scale": {"domain": [0, 1], "nice": false, "zero": false}, "axis": null},
   "y": {"field": "r", "type": "quantitative", "scale": {"domain": [0.129, 0.31], "nice": false, "zero": false}, "axis": null},
   "text": {"field": "t"}}},
{"data": {"values": [{"x": -0.097, "r": 0.327, "t": "(B)"}]}, "mark": {"type": "text", "font": "Liberation Sans", "fontSize": 33, "color": "#000", "align": "center", "baseline": "middle"},
 "encoding": {"x": {"field": "x", "type": "quantitative", "scale": {"domain": [0, 1], "nice": false, "zero": false}, "axis": null},
   "y": {"field": "r", "type": "quantitative", "scale": {"domain": [0.129, 0.31], "nice": false, "zero": false}, "axis": null},
   "text": {"field": "t"}}}
]
},
{
"width": 195, "height": 181,
"view": {"stroke": "#333", "strokeWidth": 1},
"resolve": {"axis": {"x": "independent", "y": "independent"}},
"layer": [
{"data": {"name": "bb"}, "mark": {"type": "line", "strokeWidth": 3.3, "interpolate": "monotone", "strokeCap": "round"},
 "encoding": {
  "x": {"field": "x", "type": "quantitative", "scale": {"domain": [0, 1], "nice": false, "zero": false},
    "axis": {"orient": "bottom", "values": [0, 0.2, 0.4, 0.6, 0.8, 1.0], "format": ".1f", "labelFont": "DejaVu Sans", "labelFontSize": 11, "labelColor": "#222", "tickSize": -4, "tickColor": "#333", "labelPadding": 7, "domain": false, "grid": false,
      "title": "x/l", "titleFont": "DejaVu Sans", "titleFontSize": 11, "titleFontStyle": "italic", "titleFontWeight": "normal", "titleColor": "#222", "titlePadding": 1}},
  "y": {"field": "r", "type": "quantitative", "scale": {"domain": [0.129, 0.31], "nice": false, "zero": false},
    "axis": {"orient": "left", "values": [0.15, 0.2, 0.25, 0.3], "format": ".2f", "labelFont": "DejaVu Sans", "labelFontSize": 11, "labelColor": "#222", "tickSize": -4, "tickColor": "#333", "labelPadding": 9, "domain": false, "grid": false,
      "title": "r", "titleFont": "DejaVu Sans", "titleFontSize": 11, "titleFontStyle": "italic", "titleFontWeight": "normal", "titleColor": "#222", "titlePadding": 4}},
  "color": {"field": "t", "type": "quantitative", "scale": {"scheme": {"name": "inferno", "extent": [0.08, 0.92]}, "domain": [0, 4.25]},
    "legend": {"orient": "right", "offset": 11, "padding": 0, "direction": "vertical", "gradientLength": 180, "gradientThickness": 9, "gradientStrokeColor": "#222", "gradientStrokeWidth": 1, "values": [1, 2, 3, 4], "labelFont": "DejaVu Sans", "labelFontSize": 11, "labelColor": "#222", "labelOffset": 3,
      "title": "t [h]", "titleOrient": "right", "titleAngle": 270, "titleAnchor": "middle", "titleFont": "DejaVu Sans", "titleFontSize": 11, "titleFontStyle": "italic", "titleFontWeight": "normal", "titleColor": "#222", "titlePadding": 1}},
  "detail": {"field": "t", "type": "quantitative"}
 }},
{"data": {"values": [{"x": 0.5, "r": 0.298, "t": "i = 0 mA cm⁻²"}]}, "mark": {"type": "text", "font": "Liberation Sans", "fontSize": 12, "color": "#111", "align": "center", "baseline": "middle"},
 "encoding": {"x": {"field": "x", "type": "quantitative", "scale": {"domain": [0, 1], "nice": false, "zero": false},
    "axis": {"orient": "top", "values": [0, 0.2, 0.4, 0.6, 0.8, 1.0], "labels": false, "tickSize": -4, "tickColor": "#333", "domain": false, "grid": false, "title": null}},
   "y": {"field": "r", "type": "quantitative", "scale": {"domain": [0.129, 0.31], "nice": false, "zero": false},
    "axis": {"orient": "right", "values": [0.15, 0.2, 0.25, 0.3], "labels": false, "tickSize": -4, "tickColor": "#333", "domain": false, "grid": false, "title": null}},
   "text": {"field": "t"}}},
{"data": {"values": [{"x": -0.22, "r": 0.303, "t": "(b)"}]}, "mark": {"type": "text", "font": "DejaVu Sans", "fontSize": 11, "color": "#111", "align": "center", "baseline": "middle"},
 "encoding": {"x": {"field": "x", "type": "quantitative", "scale": {"domain": [0, 1], "nice": false, "zero": false}, "axis": null},
   "y": {"field": "r", "type": "quantitative", "scale": {"domain": [0.129, 0.31], "nice": false, "zero": false}, "axis": null},
   "text": {"field": "t"}}}
]
}
],
"spacing": 105, "bounds": "flush",
"resolve": {"scale": {"color": "independent", "stroke": "independent"}, "legend": {"color": "independent", "stroke": "independent"}}
}
]
}
